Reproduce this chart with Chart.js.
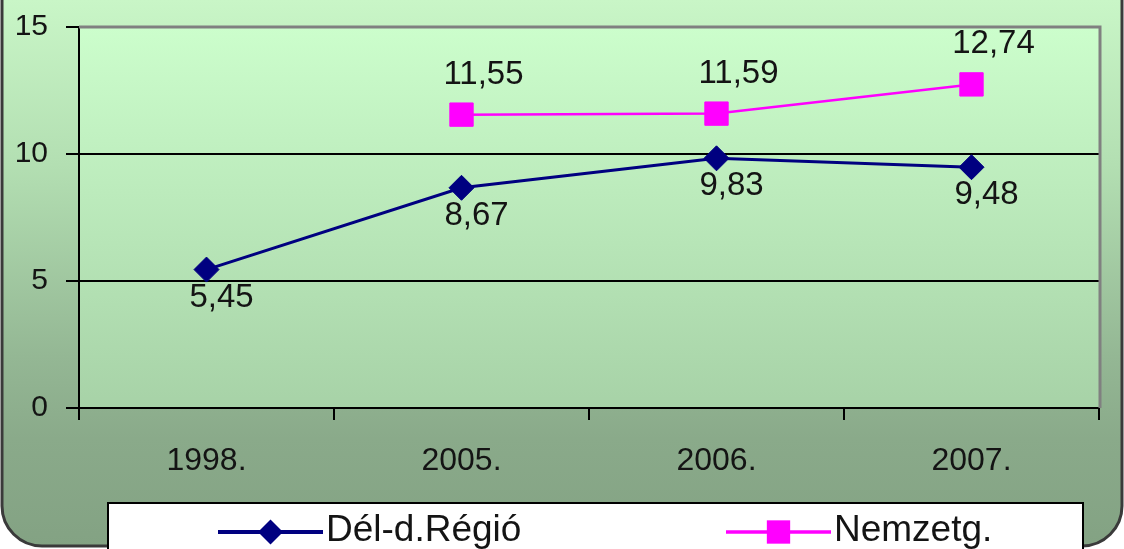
<!DOCTYPE html>
<html>
<head>
<meta charset="utf-8">
<script src="https://cdn.jsdelivr.net/npm/chart.js@4/dist/chart.umd.min.js"></script>
<style>
  html, body { margin: 0; padding: 0; background: #fff; }
  #wrap { width: 1124px; height: 549px; }
</style>
</head>
<body>
<div id="wrap"><canvas id="chart" width="1124" height="549"></canvas></div>
<script>
// ── Data ─────────────────────────────────────────────────────
const years       = ["1998.", "2005.", "2006.", "2007."];
const delRegio    = [5.45, 8.67, 9.83, 9.48];
const nemzetg     = [null, 11.55, 11.59, 12.74];
const yTicks      = [0, 5, 10, 15];
const seriesNames = ["Dél-d.Régió", "Nemzetg."];

const FONT = "'Liberation Sans', Arial, sans-serif";
const TEXT = "#141414";

const fmt = v => v.toFixed(2).replace(".", ",");

// ── Backgrounds: outer rounded frame + plot gradient ─────────
const backgroundPlugin = {
  id: "backgrounds",
  beforeDraw(chart) {
    const { ctx, width, height, chartArea: a } = chart;
    ctx.save();
    ctx.fillStyle = "#fff";
    ctx.fillRect(0, 0, width, height);

    const g = ctx.createLinearGradient(0, 0, 0, height);
    g.addColorStop(0,    "#c9f6c7");
    g.addColorStop(0.3,  "#b3dfb2");
    g.addColorStop(0.65, "#94b794");
    g.addColorStop(0.8,  "#8aaa8a");
    g.addColorStop(1,    "#83a283");
    ctx.beginPath();
    ctx.roundRect(2, -60, width - 4, height + 60 - 3, 40);
    ctx.fillStyle = g;
    ctx.fill();
    ctx.lineWidth = 3;
    ctx.strokeStyle = "#3a3a3a";
    ctx.stroke();

    const pg = ctx.createLinearGradient(0, a.top, 0, a.bottom);
    pg.addColorStop(0, "#ccfecc");
    pg.addColorStop(1, "#a7d2a7");
    ctx.fillStyle = pg;
    ctx.fillRect(a.left, a.top, a.right - a.left, a.bottom - a.top);
    ctx.restore();
  },
  beforeDatasetsDraw(chart) {
    const { ctx, chartArea: a } = chart;
    ctx.save();
    ctx.strokeStyle = "#808080";
    ctx.lineWidth = 3;
    ctx.beginPath();
    ctx.moveTo(a.left, a.top);
    ctx.lineTo(a.right + 1, a.top);
    ctx.lineTo(a.right + 1, a.bottom);
    ctx.stroke();
    ctx.restore();
  }
};

// ── Value labels next to the points ──────────────────────────
const valueLabelPlugin = {
  id: "valueLabels",
  afterDatasetsDraw(chart) {
    const { ctx } = chart;
    ctx.save();
    ctx.font = "33px " + FONT;
    ctx.fillStyle = TEXT;
    ctx.textAlign = "center";
    ctx.textBaseline = "middle";
    chart.data.datasets.forEach((ds, i) => {
      const meta = chart.getDatasetMeta(i);
      meta.data.forEach((pt, j) => {
        const v = ds.data[j];
        if (v == null) return;
        ctx.fillText(fmt(v), pt.x + ds.labelDx, pt.y + ds.labelDy);
      });
    });
    ctx.restore();
  }
};

// ── Legend box at the bottom ─────────────────────────────────
function drawMarker(ctx, style, x, y, r, color) {
  ctx.fillStyle = color;
  ctx.beginPath();
  if (style === "rectRot") {
    ctx.moveTo(x - r, y); ctx.lineTo(x, y - r);
    ctx.lineTo(x + r, y); ctx.lineTo(x, y + r);
  } else {
    const s = r * Math.SQRT1_2;
    ctx.rect(x - s, y - s, 2 * s, 2 * s);
  }
  ctx.closePath();
  ctx.fill();
}

const legendPlugin = {
  id: "boxLegend",
  afterDraw(chart) {
    const { ctx } = chart;
    const items = [{ x: 218 }, { x: 726 }];
    ctx.save();
    ctx.fillStyle = "#fff";
    ctx.fillRect(108, 503, 975, 60);
    ctx.strokeStyle = "#000";
    ctx.lineWidth = 2;
    ctx.strokeRect(108, 503, 975, 60);
    const y = 532;
    chart.data.datasets.forEach((ds, i) => {
      const x0 = items[i].x, x1 = x0 + 105;
      ctx.strokeStyle = ds.borderColor;
      ctx.lineWidth = ds.borderWidth + 1;
      ctx.beginPath();
      ctx.moveTo(x0, y); ctx.lineTo(x1, y);
      ctx.stroke();
      drawMarker(ctx, ds.pointStyle, (x0 + x1) / 2, y, ds.pointRadius, ds.borderColor);
      ctx.font = "37px " + FONT;
      ctx.fillStyle = TEXT;
      ctx.textAlign = "left";
      ctx.textBaseline = "alphabetic";
      ctx.fillText(ds.label, x1 + 3, 541);
    });
    ctx.restore();
  }
};

// ── Chart ────────────────────────────────────────────────────
new Chart(document.getElementById("chart"), {
  type: "line",
  data: {
    labels: years,
    datasets: [
      {
        label: seriesNames[0],
        data: delRegio,
        borderColor: "#000080",
        backgroundColor: "#000080",
        pointBackgroundColor: "#000080",
        pointBorderColor: "#000080",
        borderWidth: 3,
        pointStyle: "rectRot",
        pointRadius: 12.5,
        pointBorderWidth: 1,
        tension: 0,
        labelDx: 15,
        labelDy: 28
      },
      {
        label: seriesNames[1],
        data: nemzetg,
        borderColor: "#ff00ff",
        backgroundColor: "#ff00ff",
        pointBackgroundColor: "#ff00ff",
        pointBorderColor: "#ff00ff",
        borderWidth: 2.5,
        pointStyle: "rect",
        pointRadius: 16.5,
        pointBorderWidth: 1,
        tension: 0,
        labelDx: 22,
        labelDy: -40
      }
    ]
  },
  options: {
    responsive: false,
    animation: false,
    events: [],
    layout: { padding: { left: 0, top: 27, right: 25, bottom: 0 } },
    plugins: {
      legend: { display: false },
      tooltip: { enabled: false }
    },
    scales: {
      x: {
        offset: true,
        afterFit: s => { s.height = 141; s.paddingLeft = 0; s.paddingRight = 0; },
        grid: {
          offset: true,
          drawOnChartArea: false,
          tickLength: 12,
          tickColor: "#000",
          tickWidth: 2,
          lineWidth: 2
        },
        border: { color: "#000", width: 2 },
        ticks: {
          color: TEXT,
          font: { family: FONT, size: 32 },
          padding: 22,
          maxRotation: 0,
          autoSkip: false
        }
      },
      y: {
        min: 0,
        max: 15,
        afterFit: s => { s.width = 79; s.paddingTop = 0; s.paddingBottom = 0; },
        afterBuildTicks: s => { s.ticks = yTicks.map(v => ({ value: v })); },
        grid: {
          color: c => (c.tick && (c.tick.value === 5 || c.tick.value === 10)) ? "#000" : "rgba(0,0,0,0)",
          lineWidth: 2,
          tickLength: 13,
          tickColor: "#000",
          tickWidth: 2
        },
        border: { color: "#000", width: 2 },
        ticks: {
          color: TEXT,
          font: { family: FONT, size: 30 },
          padding: 18
        }
      }
    }
  },
  plugins: [backgroundPlugin, valueLabelPlugin, legendPlugin]
});
</script>
</body>
</html>
